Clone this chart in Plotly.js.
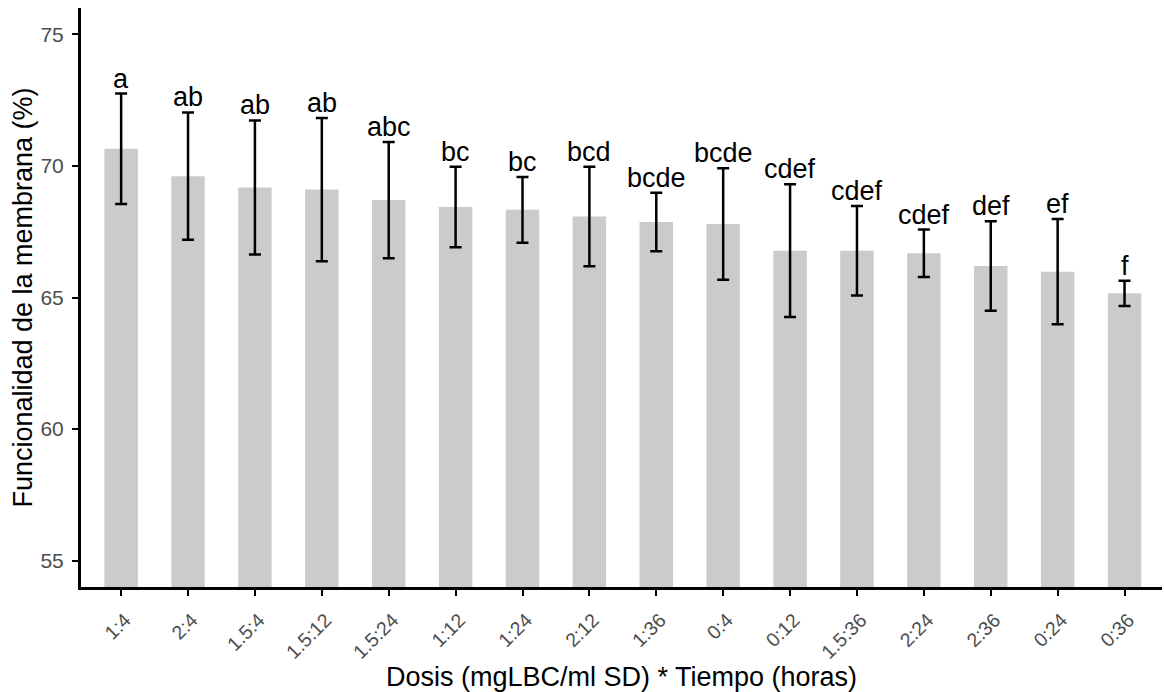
<!DOCTYPE html>
<html>
<head>
<meta charset="utf-8">
<script src="https://cdn.plot.ly/plotly-3.0.1.min.js"></script>
<style>
  html, body { margin: 0; padding: 0; background: #ffffff; }
  #chart { width: 1164px; height: 692px; }
</style>
</head>
<body>
<div id="chart"></div>
<script>
// Categories: Dosis (mgLBC/ml SD) : Tiempo (horas)
const categories = ["1:4", "2:4", "1.5:4", "1.5:12", "1.5:24", "1:12", "1:24", "2:12",
                    "1:36", "0:4", "0:12", "1.5:36", "2:24", "2:36", "0:24", "0:36"];
// Mean membrane functionality (%)
const means = [70.65, 69.61, 69.18, 69.10, 68.70, 68.44, 68.33, 68.08,
               67.87, 67.79, 66.78, 66.78, 66.68, 66.20, 65.98, 65.16];
// Standard deviation (error bars)
const sds = [2.10, 2.42, 2.55, 2.72, 2.21, 1.53, 1.25, 1.89,
             1.11, 2.12, 2.52, 1.70, 0.90, 1.70, 2.00, 0.48];
// Significance letters
const letters = ["a", "ab", "ab", "ab", "abc", "bc", "bc", "bcd",
                 "bcde", "bcde", "cdef", "cdef", "cdef", "def", "ef", "f"];

const FONT = "Liberation Sans, Arial, Helvetica, sans-serif";

const barTrace = {
  type: "bar",
  x: categories,
  y: means,
  width: 0.5,
  marker: { color: "#cccaca", line: { width: 0 } },
  error_y: {
    type: "data",
    array: sds,
    visible: true,
    color: "#000000",
    thickness: 2.5,
    width: 6
  },
  hoverinfo: "x+y",
  showlegend: false
};

const annotations = categories.map((c, i) => ({
  x: c,
  y: means[i] + sds[i],
  xref: "x",
  yref: "y",
  text: letters[i],
  showarrow: false,
  yanchor: "bottom",
  xanchor: "center",
  yshift: -2,
  font: { family: FONT, size: 27, color: "#000000" }
}));

const layout = {
  width: 1164,
  height: 692,
  paper_bgcolor: "#ffffff",
  plot_bgcolor: "#ffffff",
  margin: { l: 81, r: 2, t: 8, b: 105 },
  font: { family: FONT },
  showlegend: false,
  xaxis: {
    type: "category",
    range: [-0.6, 15.56],
    showgrid: false,
    zeroline: false,
    showline: true,
    linecolor: "#000000",
    linewidth: 3,
    ticks: "outside",
    ticklen: 6,
    tickwidth: 2,
    tickcolor: "#000000",
    tickangle: -45,
    ticklabelstandoff: 5,
    ticklabelshift: 4,
    tickfont: { family: FONT, size: 19.5, color: "#4d4d4d" },
    title: {
      text: "Dosis (mgLBC/ml SD) * Tiempo (horas)",
      font: { family: FONT, size: 27, color: "#000000" },
      standoff: 0
    },
    automargin: false
  },
  yaxis: {
    range: [54.0, 76.0],
    tickvals: [55, 60, 65, 70, 75],
    ticktext: ["55", "60", "65", "70", "75"],
    showgrid: false,
    zeroline: false,
    showline: true,
    linecolor: "#000000",
    linewidth: 3,
    ticks: "outside",
    ticklen: 6,
    tickwidth: 2,
    tickcolor: "#000000",
    ticklabelstandoff: 4,
    tickfont: { family: FONT, size: 21, color: "#4d4d4d" },
    title: {
      text: "Funcionalidad de la membrana (%)",
      font: { family: FONT, size: 27, color: "#000000" },
      standoff: 0
    },
    automargin: false
  },
  annotations: annotations,
  bargap: 0.5
};

Plotly.newPlot("chart", [barTrace], layout, { displayModeBar: false, staticPlot: true });
</script>
</body>
</html>
